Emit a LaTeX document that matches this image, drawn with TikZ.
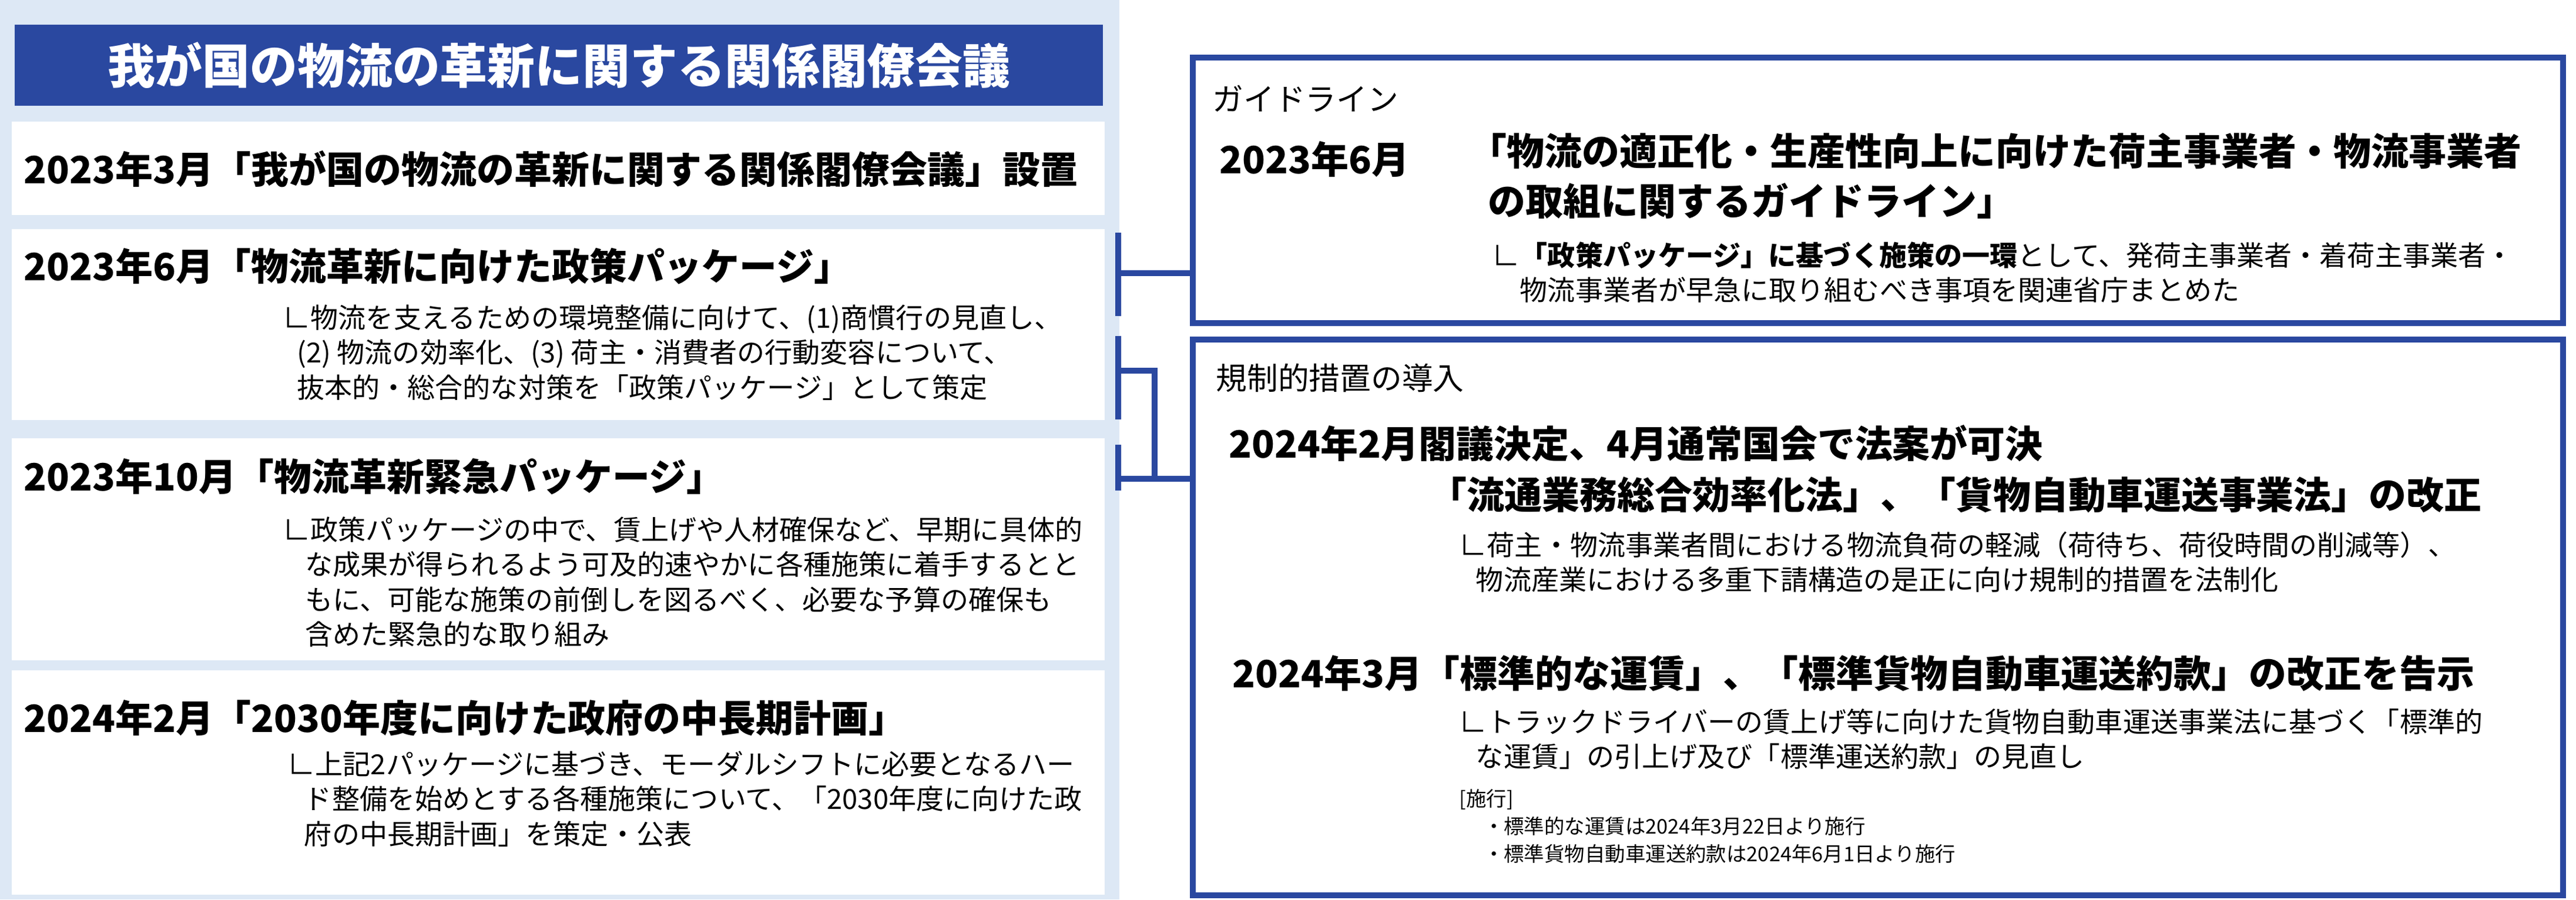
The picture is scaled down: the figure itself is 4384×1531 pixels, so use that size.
\documentclass[tikz,border=0pt]{standalone}
\usepackage{fontspec}
\setmainfont{Noto Sans CJK JP}
\definecolor{dblue}{HTML}{2A48A0}
\definecolor{lbg}{HTML}{DDE8F5}
\tikzset{
  x=0.1mm,y=-0.1mm,
  wbox/.style={fill=white,draw=none},
  rbox/.style={draw=dblue,line width=2.6pt,fill=white},
  conn/.style={draw=dblue,line width=2.6pt},
  head/.style={anchor=west,inner sep=0pt,font=\fontsize{18.2}{24}\selectfont\bfseries},
  label/.style={anchor=west,inner sep=0pt,font=\fontsize{15}{18}\selectfont},
  body/.style={anchor=north west,inner sep=0pt,align=left,font=\fontsize{13.4}{16.9}\selectfont},
  tiny/.style={anchor=north west,inner sep=0pt,align=left,font=\fontsize{9.8}{13.4}\selectfont},
}
\begin{document}
\begin{tikzpicture}
\useasboundingbox (0,0) rectangle (4384,1531);
\fill[lbg] (0,0) rectangle (1905,1531);
% title
\fill[dblue] (25,42) rectangle (1877,180);
\node[inner sep=0pt,text=white,font=\fontsize{23}{26}\selectfont\bfseries] (title) at (951,111) {我が国の物流の革新に関する関係閣僚会議};
% left boxes
\fill[wbox] (20,207) rectangle (1880,366);
\fill[wbox] (20,390) rectangle (1880,715);
\fill[wbox] (20,746) rectangle (1880,1124);
\fill[wbox] (20,1141) rectangle (1880,1523);
\node[head] (h1) at (40,288) {2023年3月「我が国の物流の革新に関する関係閣僚会議」設置};
\node[head] (h2) at (40,453) {2023年6月「物流革新に向けた政策パッケージ」};
\node[body] (b2) at (481,518) {∟物流を支えるための環境整備に向けて、(1)商慣行の見直し、\\\hspace{0.5em}(2) 物流の効率化、(3) 荷主・消費者の行動変容について、\\\hspace{0.5em}抜本的・総合的な対策を「政策パッケージ」として策定};
\node[head] (h3) at (40,811) {2023年10月「物流革新緊急パッケージ」};
\node[body] (b3) at (481,879) {∟政策パッケージの中で、賃上げや人材確保など、早期に具体的\\\hspace{0.8em}な成果が得られるよう可及的速やかに各種施策に着手するとと\\\hspace{0.8em}もに、可能な施策の前倒しを図るべく、必要な予算の確保も\\\hspace{0.8em}含めた緊急的な取り組み};
\node[head] (h4) at (40,1222) {2024年2月「2030年度に向けた政府の中長期計画」};
\node[body] (b4) at (489,1278) {∟上記2パッケージに基づき、モーダルシフトに必要となるハー\\\hspace{0.6em}ド整備を始めとする各種施策について、「2030年度に向けた政\\\hspace{0.6em}府の中長期計画」を策定・公表};
% right boxes
\draw[rbox] (2030,98) rectangle (4362,550);
\draw[rbox] (2030,578) rectangle (4362,1524);
\node[label] (g1) at (2063,168) {ガイドライン};
\node[head] (g2) at (2075,271) {2023年6月};
\node[head,anchor=north west,align=left] (g3) at (2500,226) {「物流の適正化・生産性向上に向けた荷主事業者・物流事業者\\\hspace{0.5em}の取組に関するガイドライン」};
\node[body] (g4) at (2539,411) {∟{\bfseries 「政策パッケージ」に基づく施策の一環}として、発荷主事業者・着荷主事業者・\\\hspace{1em}物流事業者が早急に取り組むべき事項を関連省庁まとめた};
\node[label] (k1) at (2069,643) {規制的措置の導入};
\node[head] (k2) at (2091,755) {2024年2月閣議決定、4月通常国会で法案が可決};
\node[head] (k3) at (2432,842) {「流通業務総合効率化法」、「貨物自動車運送事業法」の改正};
\node[body] (k4) at (2483,904) {∟荷主・物流事業者間における物流負荷の軽減（荷待ち、荷役時間の削減等）、\\\hspace{0.6em}物流産業における多重下請構造の是正に向け規制的措置を法制化};
\node[head] (k5) at (2097,1146) {2024年3月「標準的な運賃」、「標準貨物自動車運送約款」の改正を告示};
\node[body] (k6) at (2483,1206) {∟トラックドライバーの賃上げ等に向けた貨物自動車運送事業法に基づく「標準的\\\hspace{0.6em}な運賃」の引上げ及び「標準運送約款」の見直し};
\node[tiny] (k7) at (2483,1343) {[施行]\\\hspace{1.2em}・標準的な運賃は2024年3月22日より施行\\\hspace{1.2em}・標準貨物自動車運送約款は2024年6月1日より施行};
% connectors
\coordinate (c1t) at (1903,396);
\coordinate (c1b) at (1903,538);
\coordinate (c1m) at (1903,465);
\draw[conn] (c1t) -- (c1b);
\draw[conn] (c1m) -- (2030,465);
\coordinate (c2t) at (1903,572);
\coordinate (c2b) at (1903,714);
\coordinate (c2m) at (1903,631);
\coordinate (mid) at (1965,631);
\coordinate (c3t) at (1903,757);
\coordinate (c3b) at (1903,835);
\coordinate (c3m) at (1903,815);
\draw[conn] (c2t) -- (c2b);
\draw[conn] (c3t) -- (c3b);
\draw[conn] (c2m) -- (mid) -- (1965,815);
\draw[conn] (c3m) -- (2030,815);
\end{tikzpicture}
\end{document}
